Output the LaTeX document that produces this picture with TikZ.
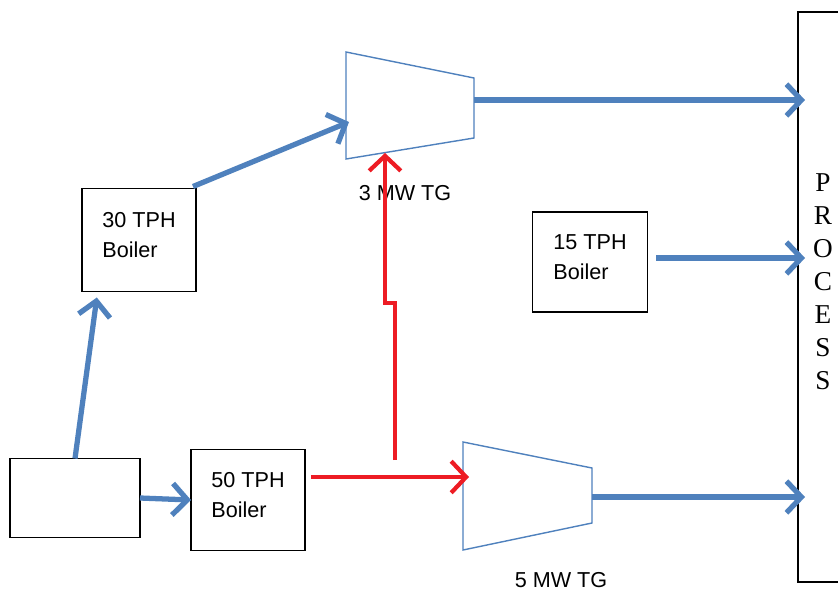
\documentclass[tikz,border=0pt]{standalone}
\usepackage{fontspec}
\setmainfont{Liberation Sans}
\newfontfamily\procfont{Liberation Serif}
\usetikzlibrary{arrows.meta,calc}
\definecolor{steamblue}{RGB}{79,129,189}
\definecolor{feedred}{RGB}{237,28,36}
\newcommand\lowpad{\rule[-6pt]{0pt}{0pt}}

\begin{document}
\begin{tikzpicture}
            [x=0.02cm,y=-0.02cm,
             every node/.style={font=\fontsize{12.3}{17}\selectfont},
             boiler/.style={draw,line width=0.8pt,align=left,inner sep=0pt,outer sep=0pt},
             flow/.style={line width=3pt,steamblue,-{Straight Barb[length=8.5pt,width=18pt]}},
             feed/.style={line width=2.4pt,feedred,-{Straight Barb[length=8.5pt,width=18pt]}},
             tg/.style={draw=steamblue,line width=0.8pt,fill=white}]
            \useasboundingbox (0,0) rectangle (838,592);

            % boilers
            \node[boiler,minimum width=2.6cm,minimum height=1.58cm] (SRC) at (75,498) {};
            \node[boiler,minimum width=2.28cm,minimum height=2.06cm] (B30) at (139,240) {30 TPH\\Boiler\lowpad};
            \node[boiler,minimum width=2.28cm,minimum height=2.02cm] (B50) at (248,500) {50 TPH\\Boiler\lowpad};
            \node[boiler,minimum width=2.3cm,minimum height=2.0cm] (B15) at (590,262) {15 TPH\\Boiler\lowpad};

            % turbines
            \draw[tg] (346,52) -- (474,78) -- (474,138) -- (346,159) -- cycle;
            \draw[tg] (463,442) -- (592,468) -- (592,523) -- (463,550) -- cycle;
            \coordinate (TG3in)  at (349,122);
            \coordinate (TG3bot) at (385,153);
            \coordinate (TG3out) at (474,100);
            \coordinate (TG5in)  at (469,477);
            \coordinate (TG5out) at (592,497);
            \node (TG3) at (405,193) {3 MW TG};
            \node (TG5) at (561,580) {5 MW TG};

            % process
            \draw[line width=0.8pt] (838,12) -- (798,12) -- (798,582) -- (838,582);
            \coordinate (procL) at (805,0);
            \node[font=\procfont\fontsize{15.5}{13.8}\selectfont,align=center] (PROC) at (823,282)
                {P\\[5pt]R\\[5pt]O\\[5pt]C\\[5pt]E\\[5pt]S\\[5pt]S};

            % steam lines
            \draw[flow] (SRC.north) -- ($(B30.south west)!0.13!(B30.south east)+(0,6)$);
            \draw[flow] (SRC.east) -- (B50.west);
            \draw[flow] ($(B30.north east)+(-3,-2)$) -- (TG3in);
            \draw[flow] (TG3out) -- (procL |- TG3out);
            \draw[flow] ($(B15.east)+(9,-4)$) -- (procL |- 0,258);
            \draw[flow] (TG5out) -- (procL |- TG5out);

            % feed to turbines
            \coordinate (tap) at (395,460);
            \draw[feed] ($(B50.east)+(6,-23)$) -- (TG5in);
            \draw[feed] (tap) -- (395,303) -- (385,303) -- (TG3bot);
        \end{tikzpicture}
\end{document}
